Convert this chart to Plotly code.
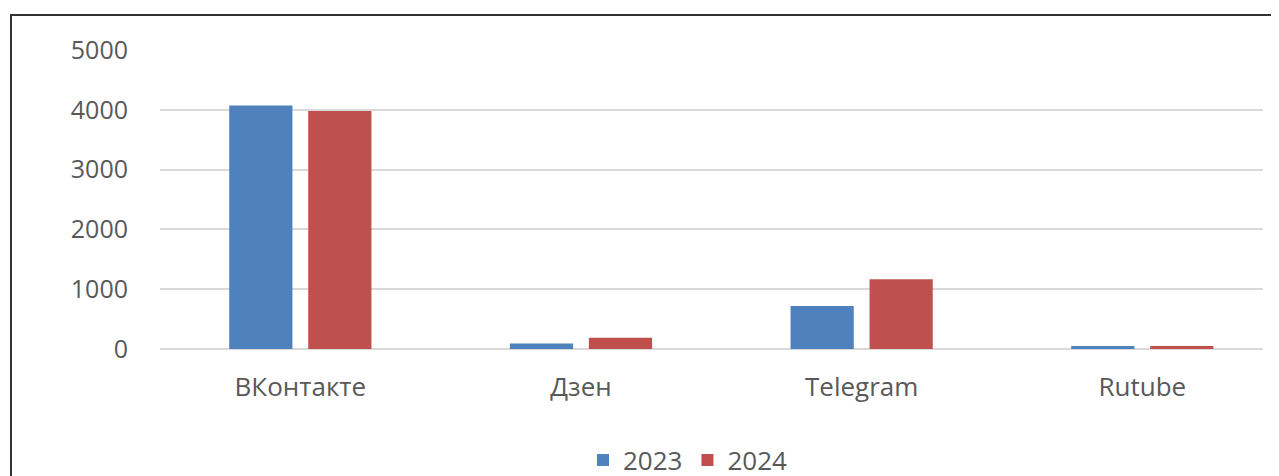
import plotly.graph_objects as go

categories = ["ВКонтакте", "Дзен", "Telegram", "Rutube"]
series_names = ["2023", "2024"]
values_2023 = [4070, 90, 720, 50]
values_2024 = [3980, 190, 1165, 50]
y_ticks = [0, 1000, 2000, 3000, 4000, 5000]

colors = ["#4f81bd", "#c0504d"]
font_family = "Open Sans, Segoe UI, Noto Sans, sans-serif"
text_color = "#595959"

fig = go.Figure()
for name, vals, col in zip(series_names, [values_2023, values_2024], colors):
    fig.add_trace(go.Bar(
        x=categories, y=vals, name=name,
        marker=dict(color=col, line=dict(width=0)),
    ))

# page body adds an 8px offset; positions below are in figure pixels
OFF = 8
W, H = 1279, 476
L, R, T, B = 160 - OFF, 16 + OFF, 50 - OFF, 127 + OFF
pw, ph = W - L - R, H - T - B

def px_x(x):
    return (x - OFF - L) / pw

def px_y(y):
    return (H - B - (y - OFF)) / ph

fig.update_layout(
    width=W, height=H,
    margin=dict(l=L, r=R, t=T, b=B, autoexpand=False),
    paper_bgcolor="white", plot_bgcolor="white",
    barmode="group", bargap=0.437, bargroupgap=0.2,
    font=dict(family=font_family, size=25, color=text_color),
    showlegend=True,
    legend=dict(
        orientation="h", x=px_x(688), y=px_y(460), xanchor="center", yanchor="middle",
        font=dict(size=26, color=text_color), itemwidth=30, tracegroupgap=0,
    ),
    xaxis=dict(
        range=[-0.5, 3.43], showgrid=False, showline=False, zeroline=False,
        ticks="", ticklabelstandoff=20, tickfont=dict(size=26, color=text_color),
    ),
    yaxis=dict(
        range=[0, 5000], tickvals=y_ticks, showgrid=True, gridcolor="#d9d9d9", gridwidth=1.5,
        zeroline=True, zerolinecolor="#d9d9d9", zerolinewidth=2, showline=False,
        ticks="", ticklabelstandoff=31, tickfont=dict(size=25, color=text_color),
    ),
    shapes=[dict(
        type="path", xref="paper", yref="paper",
        path=f"M {px_x(11)} {px_y(H + 20)} L {px_x(11)} {px_y(15)} L {px_x(W + 20)} {px_y(15)}",
        line=dict(color="#333333", width=2),
    )],
)

fig.write_html("out.html")
